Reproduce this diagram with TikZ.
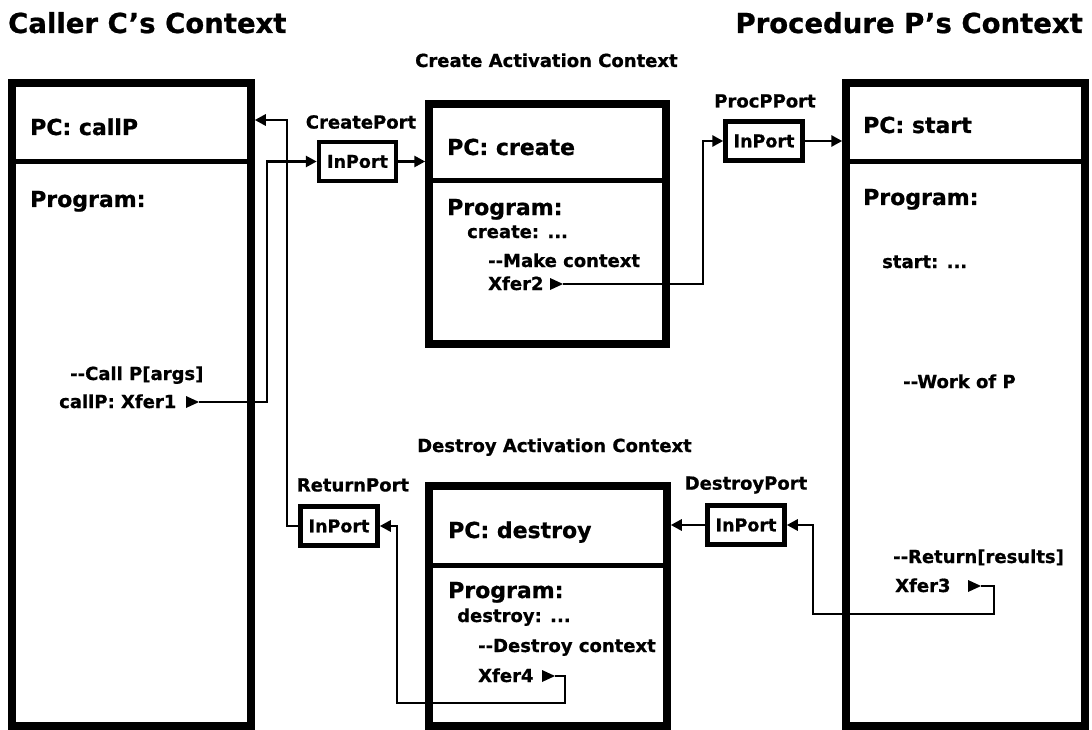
\documentclass[tikz,border=0pt]{standalone}
\usepackage{fontspec}
\setmainfont{DejaVu Sans}[BoldFeatures={FakeBold=0.8}]
\usetikzlibrary{arrows.meta}
\newcommand\fz[1]{\fontsize{#1pt}{#1pt}\selectfont\bfseries}
\begin{document}
\begin{tikzpicture}[x=1pt,y=-1pt,
  ctx/.style={draw, line width=7.5pt, inner sep=0pt},
  divider/.style={line width=5pt},
  port/.style={draw, line width=4.5pt, inner sep=0pt, minimum width=77pt, minimum height=39pt, font=\fz{17.5}},
  lbl/.style={inner sep=0pt, font=\fz{18}},
  txt/.style={anchor=base west, inner sep=0pt, font=\fz{18}},
  head/.style={anchor=base west, inner sep=0pt, font=\fz{22}},
  title/.style={inner sep=0pt, font=\fz{27.5}},
  sub/.style={anchor=base west, inner sep=0pt, font=\fz{18}},
  conn/.style={line width=2.8pt},
  arr/.style={conn, -{Triangle[length=11pt,width=11pt]}},
  xfermark/.style={fill=black},
  ]
\useasboundingbox (0,0) rectangle (1092,730);

% titles
\node[title, anchor=base west] (t1) at (8,33) {Caller C’s Context};
\node[title, anchor=base east] (t2) at (1083,33) {Procedure P’s Context};
\node[sub] (t3) at (415,67) {Create Activation Context};
\node[sub] (t4) at (417,452) {Destroy Activation Context};

% context boxes
\node[ctx, minimum width=239pt, minimum height=643pt] (caller) at (131.5,404.5) {};
\node[ctx, minimum width=237pt, minimum height=240pt] (create) at (547.5,224) {};
\node[ctx, minimum width=238pt, minimum height=240pt] (destroy) at (548,606) {};
\node[ctx, minimum width=239pt, minimum height=643pt] (start) at (965.5,404.5) {};

\draw[divider] (caller.west |- 0,162) -- (caller.east |- 0,162);
\draw[divider] (create.west |- 0,181) -- (create.east |- 0,181);
\draw[divider] (destroy.west |- 0,565) -- (destroy.east |- 0,565);
\draw[divider] (start.west |- 0,162) -- (start.east |- 0,162);

% caller texts
\node[head] (c1) at (30,135) {PC: callP};
\node[head] (c2) at (30,207) {Program:};
\node[txt] (c3) at (70,380) {-{}-Call P[args]};
\node[txt] (c4) at (59,408) {callP: Xfer1};

% create texts
\node[head] (r1) at (447,155) {PC: create};
\node[head] (r2) at (447,215) {Program:};
\node[txt] (r3) at (467,238) {create: ...};
\node[txt] (r4) at (488,267) {-{}-Make context};
\node[txt] (r5) at (488,290) {Xfer2};

% start texts
\node[head] (s1) at (863,133) {PC: start};
\node[head] (s2) at (863,205) {Program:};
\node[txt] (s3) at (882,268) {start: ...};
\node[txt] (s4) at (903,388) {-{}-Work of P};
\node[txt] (s5) at (893,563) {-{}-Return[results]};
\node[txt] (s6) at (895,592) {Xfer3};

% destroy texts
\node[head] (d1) at (448,538) {PC: destroy};
\node[head] (d2) at (448,598) {Program:};
\node[txt] (d3) at (457,622) {destroy: ...};
\node[txt] (d4) at (478,652) {-{}-Destroy context};
\node[txt] (d5) at (478,682) {Xfer4};

% ports
\node[port] (cp) at (357.5,161.5) {InPort};
\node[lbl] (cpl) at (361,122) {CreatePort};
\node[port] (pp) at (764,141) {InPort};
\node[lbl] (ppl) at (765,101) {ProcPPort};
\node[port] (rp) at (339,526) {InPort};
\node[lbl] (rpl) at (353,485) {ReturnPort};
\node[port] (dp) at (746,525) {InPort};
\node[lbl] (dpl) at (746,485) {DestroyPort};

% xfer markers
\coordinate (x1) at (199,402);
\coordinate (x2) at (563,284);
\coordinate (x3) at (981,586);
\coordinate (x4) at (555,676);
\foreach \m in {x1,x2,x3,x4}
  \fill[xfermark] (\m) -- ++(-13,-6) -- ++(0,12) -- cycle;

% connectors
\draw[arr] (x1) -- (267,402) |- (cp.west);
\draw[arr] (cp.east) -- (cp.east -| create.west);
\draw[arr] (x2) -- (703,284) |- (pp.west);
\draw[arr] (pp.east) -- (pp.east -| start.west);
\draw[arr] (x3) -- (994,586) -- (994,614) -- (813,614) |- (dp.east);
\draw[arr] (dp.west) -- (dp.west -| destroy.east);
\draw[arr] (x4) -- (565,676) -- (565,703) -- (397,703) |- (rp.east);
\draw[arr] (rp.west) -| (287,120) -- (caller.east |- 0,120);
\end{tikzpicture}
\end{document}
